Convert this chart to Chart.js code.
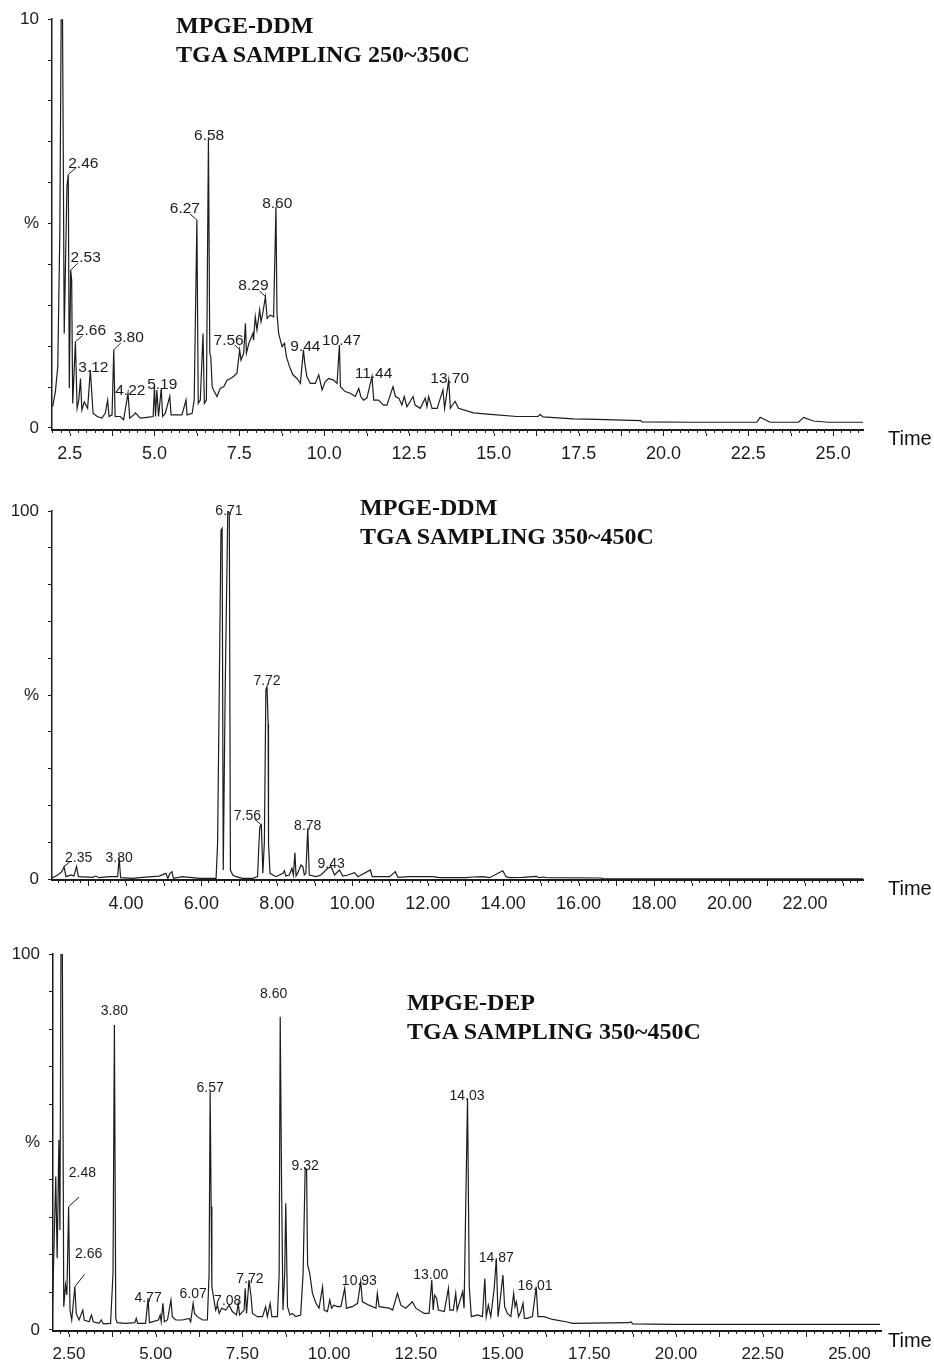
<!DOCTYPE html>
<html>
<head>
<meta charset="utf-8">
<title>MPGE TGA sampling chromatograms</title>
<script src="https://cdn.jsdelivr.net/npm/chart.js"></script>
<style>
  html, body { margin: 0; padding: 0; background: #fff; }
  body { position: relative; width: 934px; height: 1362px; overflow: hidden; }
  canvas { position: absolute; left: 0; }
  .title { position: absolute; font: bold 24px "Liberation Serif", "Times New Roman", serif; line-height: 28.5px; color: #111; white-space: nowrap; z-index: 2; }
  .time { position: absolute; left: 888px; font: 20px "Liberation Sans", Arial, sans-serif; line-height: 20px; color: #111; z-index: 2; }
</style>
</head>
<body>
<canvas id="chart1" width="934" height="470" style="top:0"></canvas>
<canvas id="chart2" width="934" height="455" style="top:470px"></canvas>
<canvas id="chart3" width="934" height="437" style="top:925px"></canvas>

<div class="title" style="left:176px;top:11px">MPGE-DDM<br>TGA SAMPLING 250~350C</div>
<div class="title" style="left:360px;top:493px">MPGE-DDM<br>TGA SAMPLING 350~450C</div>
<div class="title" style="left:407px;top:988px">MPGE-DEP<br>TGA SAMPLING 350~450C</div>
<div class="time" style="top:428px">Time</div>
<div class="time" style="top:878px">Time</div>
<div class="time" style="top:1330px">Time</div>

<script>
// chromatogram traces (time in min, intensity)
const time1 = [
  2.00, 2.08, 2.15, 2.21, 2.25, 2.29, 2.31, 2.34, 2.42, 2.46,
  2.49, 2.53, 2.56, 2.59, 2.67, 2.72, 2.77, 2.82, 2.86, 2.93,
  3.03, 3.11, 3.19, 3.31, 3.45, 3.55, 3.62, 3.66, 3.75, 3.80,
  3.84, 3.99, 4.09, 4.22, 4.27, 4.39, 4.44, 4.58, 4.78, 4.96,
  5.00, 5.03, 5.07, 5.12, 5.20, 5.24, 5.32, 5.45, 5.49, 5.66,
  5.81, 5.93, 5.96, 6.11, 6.17, 6.25, 6.29, 6.35, 6.43, 6.47,
  6.53, 6.59, 6.63, 6.66, 6.70, 6.74, 6.84, 6.94, 7.04, 7.14,
  7.24, 7.33, 7.43, 7.51, 7.55, 7.63, 7.68, 7.71, 7.78, 7.90,
  7.92, 7.97, 8.02, 8.10, 8.14, 8.19, 8.27, 8.32, 8.41, 8.51,
  8.58, 8.61, 8.66, 8.76, 8.83, 8.89, 8.98, 9.08, 9.20, 9.30,
  9.39, 9.43, 9.49, 9.59, 9.74, 9.84, 9.94, 10.03, 10.13, 10.28,
  10.38, 10.45, 10.48, 10.62, 10.77, 10.92, 11.02, 11.08, 11.16, 11.26,
  11.41, 11.46, 11.60, 11.75, 11.85, 12.03, 12.10, 12.20, 12.29, 12.36,
  12.44, 12.62, 12.68, 12.83, 12.98, 13.03, 13.08, 13.18, 13.33, 13.50,
  13.55, 13.67, 13.72, 13.77, 13.86, 13.96, 14.40, 14.90, 15.68, 16.30,
  16.37, 16.45, 17.35, 18.04, 19.32, 19.37, 20.79, 22.26, 22.75, 22.85,
  23.14, 23.98, 24.13, 24.42, 24.86, 25.88
];
const signal1 = [
  0.52, 0.89, 1.5, 4.76, 10, 10, 7.04, 2.31, 5.9, 6.2,
  0.97, 3.86, 3.62, 0.6, 2.11, 0.48, 0.68, 1.21, 0.44, 0.64,
  0.48, 1.42, 0.36, 0.28, 0.24, 0.36, 0.68, 0.28, 0.32, 1.91,
  0.28, 0.28, 0.2, 0.85, 0.24, 0.32, 0.37, 0.24, 0.26, 0.28,
  1.01, 0.28, 0.93, 0.28, 0.97, 0.28, 0.36, 0.77, 0.32, 0.32,
  0.32, 0.68, 0.32, 0.36, 0.68, 5.09, 0.6, 0.68, 2.31, 0.6,
  0.68, 7.08, 1.83, 1.74, 1.01, 0.93, 0.77, 0.97, 1.01, 1.17,
  1.21, 1.26, 1.34, 1.91, 1.66, 1.83, 2.56, 1.83, 2.07, 2.31,
  2.15, 2.72, 2.4, 2.89, 2.6, 2.8, 3.21, 2.68, 2.76, 2.72,
  5.41, 2.8, 2.31, 1.99, 2.07, 1.74, 1.5, 1.3, 1.21, 1.09,
  1.91, 1.58, 1.26, 1.09, 1.09, 1.3, 0.93, 1.13, 1.21, 1.17,
  1.09, 2.03, 1.01, 0.89, 0.85, 0.77, 0.97, 0.77, 0.68, 0.73,
  1.26, 0.68, 0.68, 0.56, 0.56, 1.01, 0.77, 0.73, 0.56, 0.77,
  0.52, 0.77, 0.56, 0.48, 0.73, 0.52, 0.77, 0.48, 0.48, 0.93,
  0.48, 1.17, 0.48, 0.55, 0.65, 0.48, 0.37, 0.33, 0.28, 0.28,
  0.33, 0.27, 0.22, 0.21, 0.18, 0.15, 0.14, 0.14, 0.14, 0.26,
  0.14, 0.14, 0.26, 0.17, 0.14, 0.14
];

const time2 = [
  2.03, 2.19, 2.30, 2.36, 2.41, 2.54, 2.62, 2.69, 2.74, 3.12,
  3.20, 3.29, 3.56, 3.78, 3.82, 3.86, 4.18, 4.44, 4.88, 5.06,
  5.11, 5.17, 5.22, 5.26, 5.50, 5.95, 6.39, 6.43, 6.52, 6.55,
  6.58, 6.63, 6.70, 6.74, 6.77, 6.83, 6.92, 7.09, 7.36, 7.49,
  7.52, 7.55, 7.59, 7.63, 7.67, 7.71, 7.74, 7.77, 7.78, 7.82,
  7.98, 8.16, 8.20, 8.24, 8.33, 8.40, 8.44, 8.48, 8.51, 8.57,
  8.64, 8.69, 8.73, 8.77, 8.82, 8.86, 9.04, 9.17, 9.35, 9.44,
  9.53, 9.66, 9.75, 9.88, 10.06, 10.15, 10.48, 10.53, 10.99, 11.14,
  11.21, 11.52, 12.13, 12.31, 13.02, 13.19, 13.46, 13.64, 13.99, 14.08,
  14.17, 14.52, 14.88, 14.96, 15.07, 15.14, 16.60, 16.64, 23.54
];
const signal2 = [
  0.18, 1.09, 2.0, 3.35, 0.63, 1.09, 0.8, 3.35, 0.63, 0.45,
  0.8, 0.36, 0.63, 0.63, 5.6, 0.36, 0.18, 0.45, 0.8, 1.54,
  0.18, 1.54, 2.0, 0.18, 0.63, 0.18, 0.18, 9.7, 94.8, 95.3,
  2.45, 50.5, 100, 99.5, 2.45, 1.09, 0.63, 0.18, 0.18, 0.63,
  8.3, 14.2, 14.7, 1.54, 10.1, 51.4, 52.3, 42.3, 9.7, 1.54,
  0.63, 1.54, 2.26, 0.8, 1.09, 2.9, 1.09, 7.16, 0.8, 2.0,
  3.8, 3.35, 1.09, 1.54, 13.8, 1.09, 0.63, 1.09, 2.9, 3.35,
  1.09, 2.45, 0.8, 1.09, 1.72, 0.63, 2.45, 0.63, 0.63, 2.0,
  0.45, 0.63, 0.63, 0.36, 0.36, 0.54, 0.63, 0.36, 2.26, 0.63,
  0.36, 0.45, 0.72, 0.36, 0.54, 0.36, 0.27, 0.05, 0.05
];

const time3 = [
  2.02, 2.05, 2.12, 2.16, 2.21, 2.24, 2.27, 2.31, 2.35, 2.40,
  2.44, 2.49, 2.53, 2.58, 2.67, 2.71, 2.79, 2.90, 2.94, 3.08,
  3.15, 3.20, 3.37, 3.43, 3.49, 3.70, 3.77, 3.81, 3.85, 3.89,
  4.13, 4.40, 4.44, 4.48, 4.71, 4.78, 4.82, 5.08, 5.13, 5.16,
  5.21, 5.25, 5.34, 5.44, 5.48, 5.58, 5.77, 5.96, 6.01, 6.08,
  6.12, 6.20, 6.35, 6.49, 6.54, 6.57, 6.60, 6.62, 6.68, 6.73,
  6.78, 6.83, 6.90, 7.02, 7.12, 7.21, 7.33, 7.38, 7.42, 7.55,
  7.58, 7.62, 7.69, 7.75, 7.79, 7.93, 8.08, 8.17, 8.22, 8.30,
  8.35, 8.51, 8.56, 8.59, 8.63, 8.67, 8.72, 8.75, 8.80, 8.87,
  8.94, 9.04, 9.18, 9.25, 9.31, 9.35, 9.38, 9.44, 9.52, 9.62,
  9.71, 9.81, 9.86, 9.95, 10.02, 10.07, 10.14, 10.24, 10.34, 10.45,
  10.50, 10.67, 10.82, 10.91, 10.96, 11.15, 11.35, 11.39, 11.44, 11.73,
  11.83, 11.97, 12.07, 12.21, 12.40, 12.50, 12.74, 12.88, 12.96, 13.00,
  13.04, 13.10, 13.15, 13.32, 13.44, 13.48, 13.58, 13.65, 13.69, 13.85,
  13.89, 13.99, 14.04, 14.10, 14.28, 14.42, 14.49, 14.53, 14.59, 14.66,
  14.76, 14.82, 14.87, 14.92, 15.01, 15.06, 15.14, 15.24, 15.32, 15.36,
  15.40, 15.46, 15.53, 15.59, 15.63, 15.72, 15.86, 15.97, 16.02, 16.20,
  16.44, 16.83, 17.02, 18.65, 18.70, 18.75, 19.90, 22.79, 25.88
];
const signal3 = [
  3.55, 15.1, 40.8, 19.1, 50.5, 26.6, 100, 100, 6.2, 12,
  9.3, 32.8, 5.3, 2.66, 11.5, 4.4, 2.66, 5.3, 2.66, 2.2,
  4.0, 2.2, 1.77, 2.66, 1.6, 1.77, 15.1, 81.1, 3.1, 1.95,
  1.77, 1.95, 3.1, 1.77, 1.77, 8.4, 1.95, 2.66, 4.0, 2.2,
  7.1, 2.2, 2.66, 8.0, 3.55, 2.66, 2.66, 3.1, 2.2, 7.1,
  4.4, 3.55, 2.66, 2.66, 15.1, 63.4, 32.8, 11.5, 8.0, 5.3,
  6.6, 4.4, 5.8, 5.3, 6.6, 4.9, 4.0, 7.1, 4.0, 5.3,
  11.1, 4.4, 13.3, 8.9, 4.4, 3.55, 3.55, 6.2, 3.55, 7.1,
  3.55, 3.55, 15.1, 83.3, 38.1, 5.3, 15.1, 33.7, 6.2, 4.0,
  4.4, 3.55, 4.0, 15.1, 43, 42.6, 17.3, 15.1, 9.75, 7.1,
  5.8, 11.5, 5.3, 4.9, 8.0, 5.8, 6.6, 6.2, 6.2, 11.1,
  5.8, 6.2, 7.1, 12.9, 7.5, 6.6, 5.8, 9.75, 6.2, 5.8,
  5.3, 9.75, 6.6, 5.8, 7.5, 5.8, 4.4, 4.4, 13.3, 5.3,
  9.3, 8.4, 5.3, 4.9, 11.1, 5.3, 5.3, 9.75, 5.3, 10.2,
  5.8, 61.6, 11.5, 3.55, 4.0, 3.55, 13.7, 3.55, 6.6, 3.55,
  11.1, 19.1, 3.55, 7.1, 14.6, 6.2, 4.4, 3.55, 9.75, 6.2,
  7.5, 3.55, 4.9, 7.1, 3.1, 3.1, 3.55, 11.5, 3.55, 3.55,
  2.8, 2.2, 1.77, 1.95, 2.2, 1.6, 1.5, 1.5, 1.5
];

// retention-time labels printed on the peaks
const peakText1 = ['2.46', '2.53', '2.66', '3.12', '3.80', '4.22', '5.19', '6.27', '6.58', '7.56', '8.29', '8.60', '9.44', '10.47', '11.44', '13.70'];
const peakText2 = ['2.35', '3.80', '6.71', '7.56', '7.72', '8.78', '9.43'];
const peakText3 = ['2.48', '2.66', '3.80', '4.77', '6.07', '6.57', '7.08', '7.72', '8.60', '9.32', '10.93', '13.00', '14.03', '14.87', '16.01'];

// axis tick labels
const xTickText1 = ['2.5', '5.0', '7.5', '10.0', '12.5', '15.0', '17.5', '20.0', '22.5', '25.0'];
const xTickText2 = ['4.00', '6.00', '8.00', '10.00', '12.00', '14.00', '16.00', '18.00', '20.00', '22.00'];
const xTickText3 = ['2.50', '5.00', '7.50', '10.00', '12.50', '15.00', '17.50', '20.00', '22.50', '25.00'];
const yTickAt1 = [0, 5, 10];
const yTickText1 = ['0', '%', '10'];
const yTickAt23 = [0, 50, 100];
const yTickText23 = ['0', '%', '100'];

// label placement relative to the peak top: [dx, dy, leaderDx, leaderDy]
const place1 = [[15, -7, 8, -7], [15, -8, 7, -7], [15.5, -7, 7, -6], [3, 2], [15, -8, 7, -7], [2.3, 1.8], [1, 1],
  [-12, -7, -7, -6], [0.7, 1], [-11, -5, -5, -5], [-12, -7, -6, -6], [1.3, 1], [1.9, 1], [2, 0], [1.5, 2], [1, 2.5]];
const place2 = [[14.6, -5, 6, -5], [0, 4], [1.2, 4], [-14, -5, -7, -6], [0, -2], [0, 2], [0, 1.6]];
const place3 = [[13.8, -29.4, 10.3, -9.4], [13.8, -28.5, 9.8, -12.5], [0, -10], [0, 3.3], [0, -5], [0, 0], [-1.5, 0],
  [1, 2.7], [-6.6, -18.5], [0, 1.7], [-1.3, 3.5], [-1, -0.7], [-0.5, 1.6], [0, 3.5], [-1.2, 3.2]];

const ink = '#1c1c1c';
const sans = '"Liberation Sans", Arial, sans-serif';

function near(a, b) { return Math.abs(a - b) < 1e-6; }

function stepTicks(start, end, step) {
    const out = [];
    for (let i = 0; ; i++) {
        const v = Math.round((start + i * step) * 1000) / 1000;
        if (v > end) break;
        out.push({ value: v });
    }
    return out;
}

// peak labels + longer major ticks on the time axis
function overlay(texts, place, fontPx, majorStep) {
    return {
        id: 'overlay',
        afterDraw(chart) {
            const { ctx, scales: { x, y } } = chart;
            const pts = chart.data.datasets[0].data;
            ctx.save();
            ctx.fillStyle = ink;
            ctx.strokeStyle = ink;
            ctx.lineWidth = 1;
            ctx.font = fontPx + 'px ' + sans;
            ctx.textAlign = 'center';
            ctx.textBaseline = 'alphabetic';
            texts.forEach((txt, i) => {
                const t = parseFloat(txt);
                let best = null;
                pts.forEach(p => {
                    if (Math.abs(p.x - t) <= 0.06 && (!best || p.y > best.y)) best = p;
                });
                if (!best) return;
                const ax = x.getPixelForValue(best.x);
                const ay = y.getPixelForValue(best.y);
                const s = place[i];
                ctx.fillText(txt, ax + s[0], ay + s[1]);
                if (s.length > 2) {
                    ctx.beginPath();
                    ctx.moveTo(ax, ay);
                    ctx.lineTo(ax + s[2], ay + s[3]);
                    ctx.stroke();
                }
            });
            x.ticks.forEach(tk => {
                const r = tk.value / majorStep;
                if (!near(r, Math.round(r))) return;
                const px = Math.round(x.getPixelForValue(tk.value)) + 0.5;
                ctx.beginPath();
                ctx.moveTo(px, x.top + 3);
                ctx.lineTo(px, x.top + 6);
                ctx.stroke();
            });
            ctx.restore();
        }
    };
}

function drawPanel(id, p) {
    const pts = p.time.map((t, i) => ({ x: t, y: p.signal[i] }));
    const xLabelAt = p.xText.map(s => parseFloat(s));
    return new Chart(document.getElementById(id), {
        type: 'line',
        data: {
            datasets: [{
                data: pts,
                borderColor: ink,
                borderWidth: 1.2,
                pointRadius: 0,
                tension: 0,
                fill: false
            }]
        },
        options: {
            responsive: false,
            animation: false,
            devicePixelRatio: 1,
            layout: { padding: { top: p.padTop, right: p.padRight, left: 0, bottom: 0 } },
            plugins: { legend: { display: false }, tooltip: { enabled: false } },
            scales: {
                x: {
                    type: 'linear',
                    bounds: 'data',
                    min: p.xMin,
                    max: p.xMax,
                    grid: { drawOnChartArea: false, tickLength: 3, color: ink },
                    border: { color: ink, width: 2 },
                    ticks: {
                        autoSkip: false,
                        maxRotation: 0,
                        minRotation: 0,
                        color: ink,
                        padding: p.xPad,
                        font: { family: sans, size: p.xFont },
                        callback: v => {
                            const k = xLabelAt.findIndex(a => near(a, v));
                            return k < 0 ? '' : p.xText[k];
                        }
                    },
                    afterBuildTicks: s => { s.ticks = stepTicks(p.tickStart, p.xMax, p.tickStep); },
                    afterFit: s => { s.height = p.xHeight; }
                },
                y: {
                    type: 'linear',
                    bounds: 'data',
                    min: p.yMin,
                    max: p.yMax,
                    grid: { drawOnChartArea: false, tickLength: 4, color: ink },
                    border: { color: ink, width: 1.5 },
                    ticks: {
                        color: ink,
                        padding: 9,
                        font: { family: sans, size: 17 },
                        callback: v => {
                            const k = p.yAt.findIndex(a => near(a, v));
                            return k < 0 ? '' : p.yText[k];
                        }
                    },
                    afterBuildTicks: s => { s.ticks = stepTicks(0, p.yMax, p.yMax / 10); },
                    afterFit: s => { s.width = p.yWidth; }
                }
            }
        },
        plugins: [overlay(p.peaks, p.place, p.labelFont, p.majorStep)]
    });
}

drawPanel('chart1', {
    time: time1, signal: signal1, peaks: peakText1, place: place1, labelFont: 15.5,
    xText: xTickText1, xMin: 1.98, xMax: 25.88, tickStart: 2.0, tickStep: 0.25, majorStep: 1.25,
    xFont: 18, xPad: 10, xHeight: 40,
    yAt: yTickAt1, yText: yTickText1, yMin: -0.05, yMax: 10,
    padTop: 19, padRight: 71, yWidth: 52
});

drawPanel('chart2', {
    time: time2, signal: signal2, peaks: peakText2, place: place2, labelFont: 14,
    xText: xTickText2, xMin: 2.04, xMax: 23.54, tickStart: 2.2, tickStep: 0.2, majorStep: 1,
    xFont: 18, xPad: 10, xHeight: 45,
    yAt: yTickAt23, yText: yTickText23, yMin: -0.27, yMax: 100,
    padTop: 41, padRight: 71, yWidth: 52
});

drawPanel('chart3', {
    time: time3, signal: signal3, peaks: peakText3, place: place3, labelFont: 14,
    xText: xTickText3, xMin: 2.04, xMax: 25.91, tickStart: 2.25, tickStep: 0.25, majorStep: 1.25,
    xFont: 17, xPad: 10, xHeight: 31,
    yAt: yTickAt23, yText: yTickText23, yMin: -0.27, yMax: 100,
    padTop: 29, padRight: 53, yWidth: 53
});
</script>
</body>
</html>
